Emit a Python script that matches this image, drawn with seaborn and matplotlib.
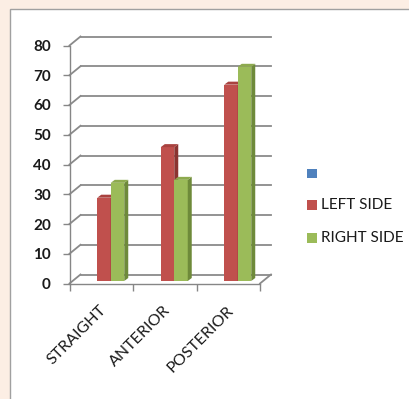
import numpy as np
import pandas as pd
import seaborn as sns
import matplotlib
matplotlib.use("Agg")
import matplotlib.pyplot as plt
from matplotlib.patches import Rectangle, Polygon
from matplotlib.transforms import ScaledTranslation, IdentityTransform
from matplotlib.lines import Line2D

# ---- data ----
categories = ["STRAIGHT", "ANTERIOR", "POSTERIOR"]
left_side = [28, 45, 66]
right_side = [33, 34, 72]
series_names = ["", "LEFT SIDE", "RIGHT SIDE"]
y_ticks = [0, 10, 20, 30, 40, 50, 60, 70, 80]

series_colors = ["#4F81BD", "#C0504D", "#9BBB59"]
top_colors = {"LEFT SIDE": "#A9423F", "RIGHT SIDE": "#8DAA4E"}
side_colors = {"LEFT SIDE": "#8A3431", "RIGHT SIDE": "#6E8A3A"}

df = pd.DataFrame({
    "category": categories * 2,
    "side": ["LEFT SIDE"] * 3 + ["RIGHT SIDE"] * 3,
    "value": left_side + right_side,
})

W, H, DPI = 409, 399, 100
fig = plt.figure(figsize=(W / DPI, H / DPI), dpi=DPI)
fig.patch.set_facecolor("#FCEEE4")

# white panel
fig.patches.append(Rectangle((10 / W, -0.05), 1.1, (H - 9) / H + 0.05,
                             transform=fig.transFigure, facecolor="white",
                             edgecolor="#A0A0A0", linewidth=1.0, zorder=-5))

# axes geometry in pixels (from top)
ax_l, ax_r = 69.5, 260.0
ax_top, ax_bot = 45.5, 283.5
ax = fig.add_axes([ax_l / W, (H - ax_bot) / H, (ax_r - ax_l) / W, (ax_bot - ax_top) / H])
ax.set_facecolor("none")
ax.set_zorder(1)

sns.barplot(data=df, x="category", y="value", hue="side",
            palette=series_colors[1:], width=0.425, gap=0, saturation=1,
            legend=False, ax=ax, zorder=3)

ax.set_xlim(-0.5, 2.5)
ax.set_ylim(0, 80)

gray = "#868686"
for s in ["top", "right"]:
    ax.spines[s].set_visible(False)
for s in ["left", "bottom"]:
    ax.spines[s].set_color(gray)
    ax.spines[s].set_linewidth(1.0)

# ticks
ax.set_yticks(y_ticks)
ax.set_yticklabels([str(v) for v in y_ticks], fontfamily="Lato",
                   fontweight="bold", fontsize=11, color="#1a1a1a")
ax.tick_params(axis="y", length=5, width=1, color=gray, pad=8.5)
ax.set_xticks([-0.5, 0.5, 1.5, 2.5])
ax.set_xticklabels([])
ax.tick_params(axis="x", length=5, width=1, color=gray)
ax.set_xlabel("")
ax.set_ylabel("")

# back wall gridlines (depth offset)
dx_back, dy_back = 11, 9
grid_c, grid_lw = "#8A8A8A", 1.3
back = ax.transData + ScaledTranslation(dx_back / DPI, dy_back / DPI, fig.dpi_scale_trans)
for v in y_ticks:
    ax.plot([-0.5, 2.5], [v, v], color=grid_c, lw=grid_lw, transform=back,
            clip_on=False, zorder=1)

fig.canvas.draw()
tD = ax.transData
# diagonals on the left wall
for v in y_ticks:
    x0, y0 = tD.transform((-0.5, v))
    ax.add_artist(Line2D([x0, x0 + dx_back], [y0, y0 + dy_back],
                         transform=IdentityTransform(), color=grid_c, lw=grid_lw,
                         zorder=1, clip_on=False))
# floor right diagonal
x0, y0 = tD.transform((2.5, 0))
ax.add_artist(Line2D([x0, x0 + dx_back], [y0, y0 + dy_back],
                     transform=IdentityTransform(), color=grid_c, lw=grid_lw,
                     zorder=1, clip_on=False))

# 3D faces for bars
bdx, bdy = 9.5, 2.5   # bar shift in px
ddx, ddy = 4, 3       # bar depth in px
shift = ScaledTranslation(bdx / DPI, bdy / DPI, fig.dpi_scale_trans)
hue_names = ["LEFT SIDE", "RIGHT SIDE"]
for hi, cont in enumerate(ax.containers):
    name = hue_names[hi]
    for p in cont.patches:
        p.set_transform(tD + shift)
        p.set_zorder(3 + hi * 0.2)
        p.set_linewidth(0)
        p.set_clip_on(False)
        x, w, h = p.get_x(), p.get_width(), p.get_height()
        (xa, ya) = tD.transform((x, 0)); (xb, yb) = tD.transform((x + w, h))
        xa += bdx; xb += bdx; ya += bdy; yb += bdy
        side = Polygon([(xb, ya), (xb + ddx, ya + ddy), (xb + ddx, yb + ddy), (xb, yb)],
                       closed=True, transform=IdentityTransform(),
                       facecolor=side_colors[name], edgecolor="none", zorder=3 + hi * 0.2 + 0.1)
        top = Polygon([(xa, yb), (xb, yb), (xb + ddx, yb + ddy), (xa + ddx, yb + ddy)],
                      closed=True, transform=IdentityTransform(),
                      facecolor=top_colors[name], edgecolor="none", zorder=3 + hi * 0.2 + 0.1)
        side.set_clip_on(False); top.set_clip_on(False)
        ax.add_artist(side); ax.add_artist(top)

# x category labels
for i, c in enumerate(categories):
    tr = ax.get_xaxis_transform() + ScaledTranslation(3 / DPI, -24.5 / DPI, fig.dpi_scale_trans)
    ax.text(i, 0, c, transform=tr, rotation=45, rotation_mode="anchor",
            ha="right", va="center", fontfamily="Lato", fontsize=11.5, color="#1a1a1a")

# legend
leg_y = [174, 205, 238]
for name, col, yc in zip(series_names, series_colors, leg_y):
    fig.patches.append(Rectangle((307 / W, (H - yc - 4.5) / H), 9.5 / W, 9.5 / H,
                                 transform=fig.transFigure, facecolor=col,
                                 edgecolor="none", zorder=5))
    fig.text(321 / W, (H - yc) / H, name, fontfamily="Lato", fontsize=11,
             ha="left", va="center", color="#1a1a1a")

fig.savefig("out.png", dpi=DPI, facecolor=fig.get_facecolor())
